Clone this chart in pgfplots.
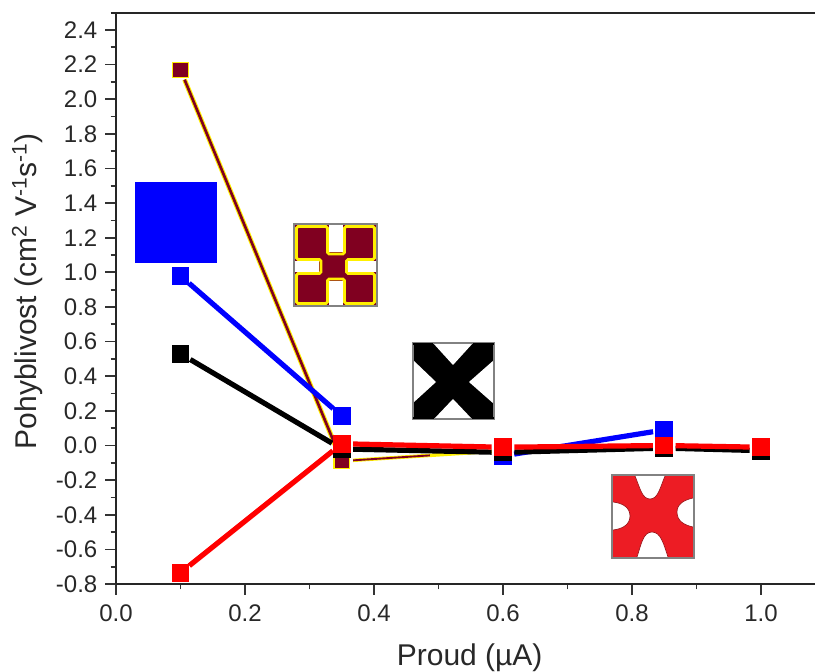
\documentclass[border=0pt]{standalone}
\usepackage{pgfplots}
\pgfplotsset{compat=1.18}
\usepackage{fontspec}
\setmainfont{Liberation Sans}
\definecolor{maroonc}{RGB}{128,0,32}
\definecolor{redc}{RGB}{255,0,0}
\definecolor{insetred}{RGB}{237,28,36}
\definecolor{bluec}{RGB}{0,0,255}
\definecolor{yel}{RGB}{255,240,0}
\definecolor{txt}{RGB}{40,40,40}
\definecolor{frm}{RGB}{130,130,130}
\pgfplotsset{
  seg/.style={line width=3.9pt,shorten <=8.5pt,shorten >=8.5pt,forget plot},
  mk/.style={only marks,mark=square*,mark size=6.3pt,forget plot},
}
\begin{document}
\begin{tikzpicture}
\path[use as bounding box] (0,0) rectangle (611.25pt,504pt);
\begin{axis}[
  at={(87pt,66pt)},anchor=south west,
  scale only axis,width=524.25pt,height=428.25pt,
  xmin=0,xmax=1.0837,ymin=-0.8,ymax=2.498,
  axis x line=bottom,
  axis y line=left,
  axis line style={-,line width=1.4pt,black!85},
  xtick={0,0.2,0.4,0.6,0.8,1.0},
  ytick={-0.8,-0.6,-0.4,-0.2,0,0.2,0.4,0.6,0.8,1.0,1.2,1.4,1.6,1.8,2.0,2.2,2.4},
  minor x tick num=1,minor y tick num=1,
  tick align=outside,
  major tick length=8pt,minor tick length=4pt,
  tick style={line width=1.3pt,black!80},
  minor tick style={line width=1.3pt,black!80},
  /pgf/number format/assume math mode=true,
  /pgf/number format/fixed,/pgf/number format/fixed zerofill,/pgf/number format/precision=1,
  tick label style={font=\fontsize{18}{20}\selectfont,text=txt},
  xticklabel style={yshift=-3.75pt},
  yticklabel style={xshift=-2.5pt},
  xlabel={Proud (µA)},
  ylabel={Pohyblivost (cm\textsuperscript{2} V\textsuperscript{-1}s\textsuperscript{-1})},
  xlabel style={font=\fontsize{22.5}{24}\selectfont,text=txt,at={(axis description cs:0.506,-0.097)},anchor=north},
  ylabel style={font=\fontsize{22.5}{24}\selectfont,text=txt,at={(axis description cs:-0.098,0.513)},anchor=south},
  clip=false,
]
% maroon
\addplot[seg,yel,line width=3.6pt,shorten <=8pt,shorten >=8pt] coordinates {(0.1,2.17)(0.35,-0.09)};
\addplot[seg,maroonc,line width=2pt,shorten <=8pt,shorten >=8pt] coordinates {(0.1,2.17)(0.35,-0.09)};
\addplot[seg,yel,line width=2.6pt] coordinates {(0.35,-0.09)(0.6,-0.03)};
\addplot[seg,maroonc,line width=1.4pt,shorten >=55pt] coordinates {(0.35,-0.09)(0.6,-0.03)};
\addplot[mk,mark options={draw=yel,fill=maroonc,line width=0.8pt},mark size=5.8pt] coordinates {(0.1,2.17)(0.35,-0.09)};
% blue (no visible segment from 0.35 to 0.6)
\addplot[seg,bluec] coordinates {(0.1,0.98)(0.35,0.17)};
\addplot[seg,bluec] coordinates {(0.6,-0.06)(0.85,0.09)};
\addplot[mk,mark options={draw=bluec,fill=bluec,line width=0pt}] coordinates {(0.1,0.98)(0.35,0.17)(0.6,-0.06)(0.85,0.09)};
% black
\addplot[seg,black] coordinates {(0.1,0.53)(0.35,-0.02)};
\addplot[seg,black] coordinates {(0.35,-0.02)(0.6,-0.04)};
\addplot[seg,black] coordinates {(0.6,-0.04)(0.85,-0.015)};
\addplot[seg,black] coordinates {(0.85,-0.015)(1.0,-0.03)};
\addplot[mk,mark options={draw=black,fill=black,line width=0pt}] coordinates {(0.1,0.53)(0.35,-0.02)(0.6,-0.04)(0.85,-0.015)(1.0,-0.03)};
% red
\addplot[seg,redc] coordinates {(0.1,-0.735)(0.35,0.01)};
\addplot[seg,redc] coordinates {(0.35,0.01)(0.6,-0.01)};
\addplot[seg,redc] coordinates {(0.6,-0.01)(0.85,0.0)};
\addplot[seg,redc] coordinates {(0.85,0.0)(1.0,-0.01)};
\addplot[mk,mark options={draw=redc,fill=redc,line width=0pt}] coordinates {(0.1,-0.735)(0.35,0.01)(0.6,-0.01)(0.85,0.0)(1.0,-0.01)};
\end{axis}
% top spine
\draw[line width=1.4pt,black!85] (83pt,494.25pt) -- (611.25pt,494.25pt);
\begin{scope}[x=0.75pt,y=-0.75pt,yshift=504pt]
% blue square
\fill[bluec] (135,182) rectangle (217,263);
% maroon inset
\fill[maroonc] (294,224) rectangle (377,306);
\draw[yel,line width=2.2pt,rounded corners=1.2pt] (296.5,226.5) -- (327.5,226.5) -- (327.5,254) -- (344.5,254) -- (344.5,226.5) -- (374.5,226.5) -- (374.5,259.5) -- (346.5,259.5) -- (346.5,273.5) -- (374.5,273.5) -- (374.5,303.5) -- (344.5,303.5) -- (344.5,279) -- (327.5,279) -- (327.5,303.5) -- (296.5,303.5) -- (296.5,273.5) -- (321,273.5) -- (321,259.5) -- (296.5,259.5) -- cycle;
\fill[white] (329,225) rectangle (343,252);
\fill[white] (329,281) rectangle (343,305);
\fill[white] (295,261) rectangle (319,272);
\fill[white] (348,261) rectangle (376,272);
\draw[frm,line width=0.8pt] (294,224) rectangle (377,306);
% black X
\fill[black] (413,343) rectangle (494,419);
\fill[white] (433,343) -- (453,365) -- (473,343) -- cycle;
\fill[white] (434,419) -- (453,399) -- (472,419) -- cycle;
\fill[white] (413,360) -- (436,382) -- (413,403) -- cycle;
\fill[white] (494,360) -- (469,382) -- (494,404) -- cycle;
\draw[frm,line width=0.8pt] (413,343) rectangle (494,419);
\fill[black] (413,343) rectangle (433,345);
\fill[black] (473,343) rectangle (494,345);
\fill[black] (413,417) rectangle (434,419);
\fill[black] (472,417) rectangle (494,419);
% red inset
\fill[insetred] (612,475) rectangle (694,558);
\begin{scope}[every path/.style={fill=white,draw=insetred!65!black,line width=0.5pt}]
\path (635,476) .. controls (640,488) and (642,499) .. (650,499) .. controls (658,499) and (660,488) .. (665,476);
\path (637,557) .. controls (641,545) and (643,532) .. (652,532) .. controls (661,532) and (664,545) .. (668,557);
\path (613,502) .. controls (622,503) and (630,507) .. (630,516) .. controls (630,525) and (622,529) .. (613,530);
\path (693,498) .. controls (684,500) and (677,504) .. (677,512) .. controls (677,521) and (684,525) .. (693,527);
\end{scope}
\draw[frm,line width=0.8pt] (612,475) rectangle (694,558);
\end{scope}
\end{tikzpicture}
\end{document}
